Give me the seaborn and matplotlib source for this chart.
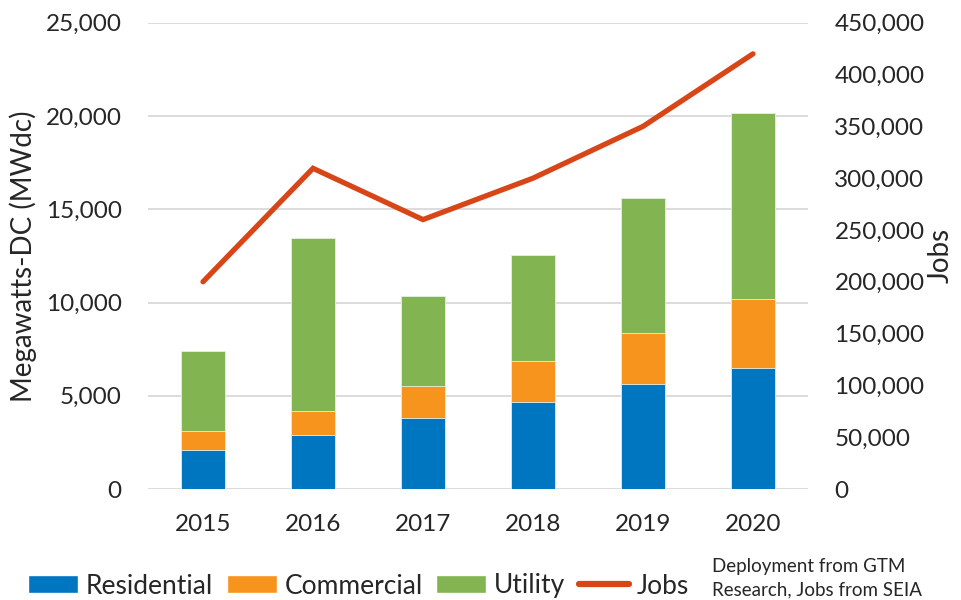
import matplotlib
matplotlib.use("Agg")
import matplotlib.pyplot as plt
from matplotlib.patches import Patch
from matplotlib.lines import Line2D
from matplotlib.ticker import FuncFormatter, MultipleLocator
import seaborn as sns
import pandas as pd
import numpy as np

years = ["2015", "2016", "2017", "2018", "2019", "2020"]
residential = [2080, 2910, 3820, 4680, 5610, 6470]
commercial = [1030, 1290, 1720, 2170, 2770, 3700]
utility = [4310, 9260, 4830, 5680, 7210, 9980]
jobs = [200000, 309500, 260000, 300000, 350000, 420000]

source_note = "Deployment from GTM\nResearch, Jobs from SEIA"

c_res = "#0076C0"
c_com = "#F7941E"
c_uti = "#82B452"
c_job = "#D84618"

sns.set_theme(style="white")
plt.rcParams["font.family"] = ["Lato", "DejaVu Sans"]

df = pd.DataFrame({"year": years, "res": residential, "com": commercial, "uti": utility, "jobs": jobs})
df["c1"] = df["res"]
df["c2"] = df["res"] + df["com"]
df["c3"] = df["c2"] + df["uti"]

fig = plt.figure(figsize=(9.62, 6.0), dpi=100)
ax = fig.add_axes([148/962, 1-489/600, (808-148)/962, (489-22.75)/600])

for col, colr in [("c3", c_uti), ("c2", c_com), ("c1", c_res)]:
    sns.barplot(data=df, x="year", y=col, color=colr, width=0.4, ax=ax,
                edgecolor="#e8f0e0", linewidth=0.6, saturation=1, zorder=3)

ax.set_ylim(0, 25000)
ax.set_xlim(-0.5, 5.5)
ax.yaxis.set_major_locator(MultipleLocator(5000))
ax.yaxis.set_major_formatter(FuncFormatter(lambda v, p: f"{int(v):,}"))
ax.grid(axis="y", color="#d9d9d9", linewidth=1.3, zorder=0)
ax.grid(axis="x", visible=False)
ax.set_axisbelow(True)
for s in ["top", "right", "left", "bottom"]:
    ax.spines[s].set_visible(False)
ax.set_xlabel("")
ax.set_ylabel("Megawatts-DC (MWdc)", fontsize=20, labelpad=6)
ax.tick_params(axis="y", labelsize=17.5, length=0, pad=19)
ax.tick_params(axis="x", labelsize=17.5, length=0, pad=18)

ax2 = ax.twinx()
sns.lineplot(x=np.arange(len(years)), y=df["jobs"], ax=ax2, color=c_job, linewidth=3.8,
             solid_capstyle="round", solid_joinstyle="miter", zorder=5)
ax2.set_ylim(0, 450000)
ax2.yaxis.set_major_locator(MultipleLocator(50000))
ax2.yaxis.set_major_formatter(FuncFormatter(lambda v, p: f"{int(v):,}"))
ax2.tick_params(axis="y", labelsize=17.5, length=0, pad=19)
ax2.set_ylabel("Jobs", fontsize=20, labelpad=2, rotation=90)
ax2.grid(False)
for s in ["top", "right", "left", "bottom"]:
    ax2.spines[s].set_visible(False)
ax2.set_xlim(-0.5, 5.5)

handles = [Patch(facecolor=c_res), Patch(facecolor=c_com), Patch(facecolor=c_uti),
           Line2D([0], [0], color=c_job, linewidth=4.5)]
labels = ["Residential", "Commercial", "Utility", "Jobs"]
fig.legend(handles, labels, loc="center left", bbox_to_anchor=(28/962, 1-586/600), ncol=4,
           frameon=False, fontsize=19, handlelength=1.9, handleheight=0.65,
           handletextpad=0.3, columnspacing=0.5, borderaxespad=0, borderpad=0)

fig.text(712/962, 1-578/600, source_note, fontsize=13.5, ha="left", va="center", linespacing=1.45)

fig.savefig("out.png", dpi=100)
